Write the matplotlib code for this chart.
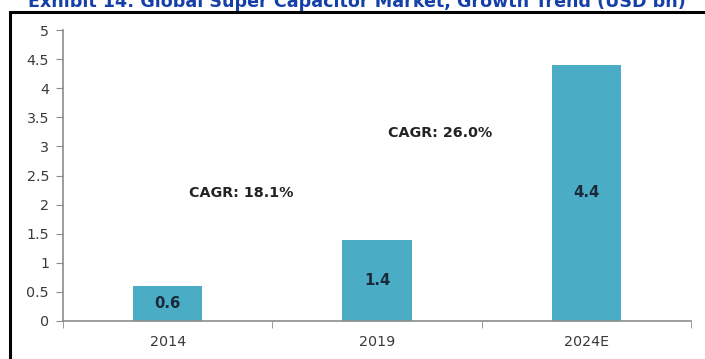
import matplotlib
matplotlib.use("Agg")
import matplotlib.pyplot as plt
from matplotlib.patches import Rectangle

# Market size, USD bn
years = ["2014", "2019", "2024E"]
market = [0.6, 1.4, 4.4]
value_labels = ["0.6", "1.4", "4.4"]
y_ticks = [0, 0.5, 1, 1.5, 2, 2.5, 3, 3.5, 4, 4.5, 5]
y_tick_labels = ["0", "0.5", "1", "1.5", "2", "2.5", "3", "3.5", "4", "4.5", "5"]
cagr_text = ["CAGR: 18.1%", "CAGR: 26.0%"]
cagr_pos = [(0.35, 2.2), (1.30, 3.23)]

title = "Exhibit 14: Global Super Capacitor Market, Growth Trend (USD bn)"

bar_color = "#4BACC6"
axis_color = "#8C8C8C"
text_color = "#3A3A3A"

fig = plt.figure(figsize=(7.05, 3.59), dpi=100)
fig.patch.set_facecolor("white")

# outer black frame (runs off the right and bottom edge)
frame = Rectangle((9.5 / 705, -0.1), 1.2, 1 - 12 / 359 + 0.1,
                  transform=fig.transFigure, fill=False,
                  edgecolor="black", linewidth=2.2, clip_on=False)
fig.patches.append(frame)

# title sits above the frame, partly cut by the top edge
fig.text(357 / 705, 1 - 7 / 359, title, ha="center", va="baseline",
         fontsize=12.6, fontweight="bold", color="#1540A8",
         family="DejaVu Sans")

ax = fig.add_axes([63 / 705, 38 / 359, 628 / 705, 291 / 359])
x = list(range(len(years)))
bars = ax.bar(x, market, width=0.33, color=bar_color, zorder=2)

for b, lab in zip(bars, value_labels):
    ax.text(b.get_x() + b.get_width() / 2, b.get_height() / 2, lab,
            ha="center", va="center", fontsize=10.7, fontweight="bold",
            color="#1B2A3A")

for txt, (cx, cy) in zip(cagr_text, cagr_pos):
    ax.text(cx, cy, txt, ha="center", va="center", fontsize=10.3,
            fontweight="bold", color="#222222")

ax.set_xlim(-0.5, 2.5)
ax.set_ylim(0, 5)
ax.set_yticks(y_ticks)
ax.set_yticklabels(y_tick_labels)
ax.set_xticks(x)
ax.set_xticklabels(years)
ax.set_xticks([-0.5, 0.5, 1.5, 2.5], minor=True)

ax.tick_params(axis="x", which="major", length=0, pad=10,
               labelsize=10.3, labelcolor=text_color)
ax.tick_params(axis="x", which="minor", length=5, color=axis_color,
               direction="out")
ax.tick_params(axis="y", length=5, color=axis_color, labelsize=10.3,
               labelcolor=text_color, pad=5)

for side in ["top", "right"]:
    ax.spines[side].set_visible(False)
for side in ["left", "bottom"]:
    ax.spines[side].set_color(axis_color)
    ax.spines[side].set_linewidth(1.2)

fig.savefig("out.png", dpi=100)
